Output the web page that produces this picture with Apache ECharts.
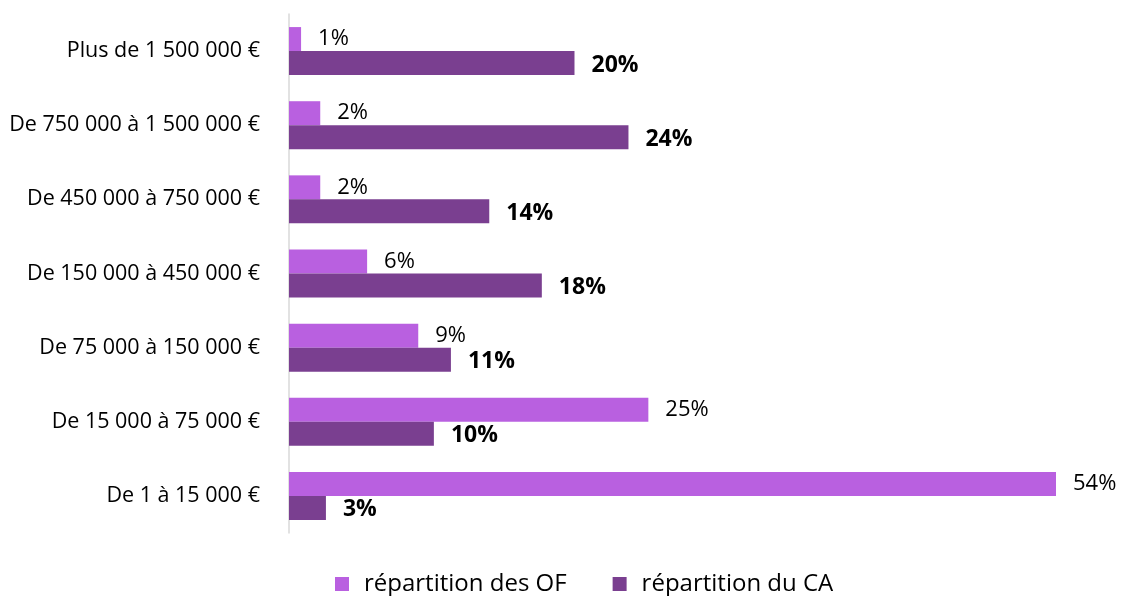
<!DOCTYPE html>
<html>
<head>
<meta charset="utf-8">
<script src="https://cdn.jsdelivr.net/npm/echarts@6/dist/echarts.min.js"></script>
<style>
  html, body { margin: 0; padding: 0; background: #fff; }
  #container { width: 1121px; height: 596px; }
</style>
</head>
<body>
<div id="container"></div>
<script>
// tranches de CA, du bas vers le haut
var categories = [
  'De 1 à 15 000 €',
  'De 15 000 à 75 000 €',
  'De 75 000 à 150 000 €',
  'De 150 000 à 450 000 €',
  'De 450 000 à 750 000 €',
  'De 750 000 à 1 500 000 €',
  'Plus de 1 500 000 €'
];
var repartitionOF = [54.0, 25.3, 9.1, 5.5, 2.2, 2.2, 0.85];
var repartitionCA = [2.6, 10.2, 11.4, 17.8, 14.1, 23.9, 20.1];

var chart = echarts.init(document.getElementById('container'));

var option = {
  animation: false,
  textStyle: { fontFamily: 'Open Sans' },
  grid: { left: 289, right: 65, top: 14, bottom: 63, containLabel: false },
  legend: {
    bottom: -5,
    left: 330,
    itemWidth: 14,
    itemHeight: 14,
    itemGap: 46,
    icon: 'rect',
    textStyle: { fontSize: 24, color: '#000', fontFamily: 'Open Sans', padding: [0, 0, 0, 10] },
    data: ['répartition des OF', 'répartition du CA']
  },
  xAxis: {
    type: 'value',
    min: 0,
    max: 54,
    show: false
  },
  yAxis: {
    type: 'category',
    data: categories,
    axisLine: { show: true, lineStyle: { color: '#d9d9d9', width: 1.5 } },
    axisTick: { show: false },
    axisLabel: { color: '#000', fontSize: 21.5, margin: 29, fontFamily: 'Open Sans' },
    splitLine: { show: false }
  },
  series: [
    {
      name: 'répartition des OF',
      type: 'bar',
      data: repartitionOF,
      barWidth: 24,
      barGap: '0%',
      itemStyle: { color: '#b960e0' },
      label: {
        show: true,
        position: 'right',
        distance: 17,
        color: '#000',
        fontSize: 22,
        fontFamily: 'Open Sans',
        formatter: function (p) { return Math.round(p.value) + '%'; }
      }
    },
    {
      name: 'répartition du CA',
      type: 'bar',
      data: repartitionCA,
      barWidth: 24,
      barGap: '0%',
      itemStyle: { color: '#7a3f90' },
      label: {
        show: true,
        position: 'right',
        distance: 17,
        offset: [0, 2],
        color: '#000',
        fontSize: 23,
        fontWeight: 'bold',
        fontFamily: 'Open Sans',
        formatter: function (p) { return Math.round(p.value) + '%'; }
      }
    }
  ]
};

chart.setOption(option);
</script>
</body>
</html>
